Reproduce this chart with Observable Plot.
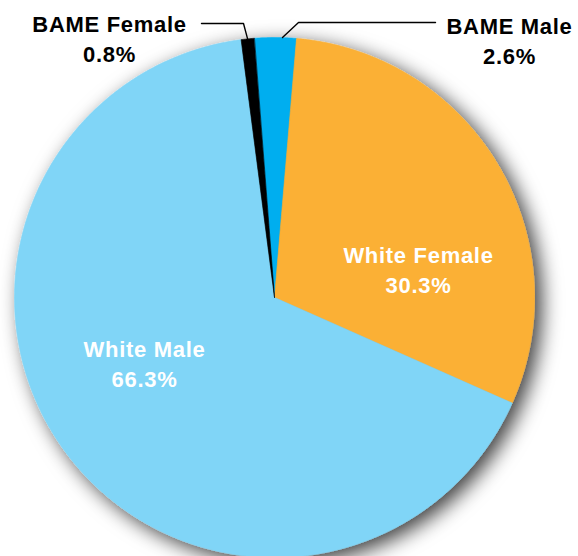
<!DOCTYPE html>
<html><head><meta charset="utf-8">
<script src="https://cdn.jsdelivr.net/npm/d3@7"></script>
<script src="https://cdn.jsdelivr.net/npm/@observablehq/plot@0.6"></script>
<style>
html,body{margin:0;padding:0;background:#fff;overflow:hidden;}
#chart svg{display:block;}
#chart text{letter-spacing:0.7px;}
</style></head><body><div id="chart"></div>
<script>
// ---- data ----
const categories = ["BAME Male", "White Female", "White Male", "BAME Female"];
const shares = [2.6, 30.3, 66.3, 0.8];
const valueLabels = ["2.6%", "30.3%", "66.3%", "0.8%"];
const colors = ["#00AEEF", "#FBB034", "#80D5F7", "#000000"];

// ---- layout ----
const W = 578, H = 556, CX = 274, CY = 297, R = 260;
const START_DEG = -4.5;
const fx = px => (px - CX) / R;
const fy = py => (CY - py) / R;

const rows = categories.map((c, i) => ({category: c, share: shares[i], value: valueLabels[i]}));
const start = START_DEG * Math.PI / 180;
const arcs = d3.pie().sort(null).value(d => d.share).startAngle(start).endAngle(start + 2 * Math.PI)(rows);

const poly = [];
arcs.forEach(a => {
  const c = a.data.category;
  poly.push({category: c, x: 0, y: 0});
  const n = Math.max(2, Math.ceil((a.endAngle - a.startAngle) / (Math.PI / 720)));
  for (let k = 0; k <= n; k++) {
    const t = a.startAngle + (a.endAngle - a.startAngle) * k / n;
    poly.push({category: c, x: Math.sin(t), y: Math.cos(t)});
  }
});

// label placement (pixel layout -> data coords), baseline of last line
const labelLayout = {
  "BAME Female": {px: 109, py: 61, color: "#000"},
  "BAME Male":   {px: 509, py: 63, color: "#000"},
  "White Female":{px: 418, py: 292, color: "#fff"},
  "White Male":  {px: 144, py: 386, color: "#fff"}
};
const labels = rows.map(r => ({
  text: r.category + "\n" + r.value,
  x: fx(labelLayout[r.category].px),
  y: fy(labelLayout[r.category].py),
  color: labelLayout[r.category].color
}));

// leader lines
const arcOf = name => arcs.find(a => a.data.category === name);
const femA = arcOf("BAME Female");
const femMid = (femA.startAngle + femA.endAngle) / 2;
const leaders = [
  {id: "f", x: fx(201), y: fy(23)},
  {id: "f", x: fx(243), y: fy(23)},
  {id: "f", x: Math.sin(femMid), y: Math.cos(femMid)},
  {id: "m", x: fx(435), y: fy(22)},
  {id: "m", x: fx(298), y: fy(22)},
  {id: "m", x: fx(282), y: fy(37)}
];

const font = '"Liberation Sans", Arial, Helvetica, sans-serif';
const plot = Plot.plot({
  width: W, height: H, margin: 0,
  x: {domain: [-1, 1], range: [CX - R, CX + R], axis: null},
  y: {domain: [-1, 1], range: [CY + R, CY - R], axis: null},
  color: {domain: categories, range: colors},
  marks: [
    Plot.line(poly, {x: "x", y: "y", z: "category", fill: "category", stroke: "category", strokeWidth: 0.6, curve: "linear-closed"}),
    Plot.line(leaders, {x: "x", y: "y", z: "id", stroke: "#000", strokeWidth: 1.4}),
    Plot.text(labels, {x: "x", y: "y", text: "text", fill: d => d.color, lineAnchor: "bottom", lineHeight: 1.36,
      fontSize: 22, fontWeight: "bold", fontFamily: font, textAnchor: "middle"})
  ]
});
document.getElementById("chart").appendChild(plot);

// drop shadow on the pie
const svg = d3.select(plot);
const defs = svg.insert("defs", ":first-child");
defs.append("filter").attr("id", "pieShadow").attr("x", "-20%").attr("y", "-20%").attr("width", "140%").attr("height", "140%")
  .append("feDropShadow").attr("dx", 7).attr("dy", 6).attr("stdDeviation", 10).attr("flood-color", "#000").attr("flood-opacity", 0.75);
svg.select('g[aria-label="line"]').attr("filter", "url(#pieShadow)");
</script>
</body></html>
